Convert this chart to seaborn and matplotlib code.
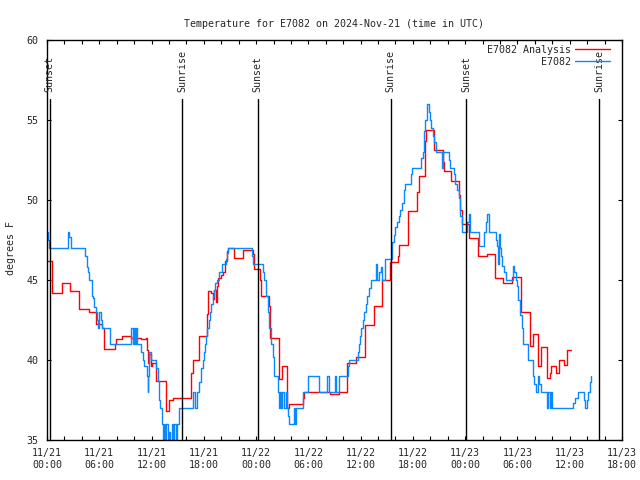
import pandas as pd
import seaborn as sns
import matplotlib
matplotlib.use("Agg")
import matplotlib.pyplot as plt
from matplotlib.ticker import MultipleLocator

# hours since 2024-11-21 00:00 UTC, deg F
analysis_hours = [0.0, 0.53, 0.61, 1.68, 2.63, 3.7, 4.84, 5.68, 6.37, 6.56, 7.78, 7.97, 8.66,
                  9.69, 10.83, 11.33, 11.48, 11.59, 11.71, 11.9, 12.09, 12.55, 13.61, 13.69,
                  14.0, 14.45, 16.55, 16.81, 17.5, 18.38, 18.53, 18.88, 19.1, 19.22, 19.41,
                  19.52, 19.6, 19.98, 20.17, 20.47, 20.63, 20.74, 21.5, 22.5, 23.6, 23.79,
                  24.44, 24.56, 25.43, 25.59, 26.58, 26.65, 26.96, 27.6, 27.8, 29.4, 29.51,
                  32.45, 33.52, 34.47, 35.42, 36.49, 37.52, 38.47, 39.38, 40.3, 40.45, 41.43,
                  42.46, 42.66, 43.35, 43.5, 44.46, 45.41, 45.53, 46.4, 47.32, 47.43, 47.62,
                  48.45, 49.44, 50.5, 51.44, 52.39, 53.42, 54.41, 55.45, 55.75, 56.39, 56.66,
                  57.34, 57.72, 57.84, 58.4, 58.75, 59.36, 59.67, 60.2]
analysis_temp = [46.2, 45.0, 44.2, 44.8, 44.3, 43.2, 43.0, 42.25, 42.0, 40.7, 41.0, 41.3, 41.5,
                 41.4, 41.3, 41.4, 40.6, 39.8, 40.4, 39.6, 39.8, 38.7, 37.8, 36.8,
                 37.5, 37.6, 39.2, 40.0, 41.5, 42.9, 44.3, 44.2, 43.8, 44.4, 43.6,
                 44.6, 45.1, 45.3, 45.5, 46.2, 46.8, 47.0, 46.4, 46.9, 46.6, 45.7,
                 45.0, 44.0, 43.4, 41.4, 39.6, 38.8, 39.6, 37.0, 37.25, 37.6, 38.0,
                 37.9, 38.0, 39.8, 40.2, 42.2, 43.4, 45.0, 46.1, 46.5, 47.2, 49.3,
                 50.5, 51.5, 53.7, 54.4, 53.1, 52.4, 51.8, 51.2, 50.3, 49.4, 48.5,
                 47.6, 46.5, 46.6, 45.1, 44.8, 45.2, 43.0, 40.9, 41.6, 39.6, 40.8,
                 38.85, 39.2, 39.6, 39.2, 40.0, 39.7, 40.6, 40.6]

obs_hours = [0.0, 0.15, 0.27, 2.44, 2.56, 2.71, 4.39, 4.54, 4.69, 4.84, 5.11, 5.30, 5.41, 5.57,
             5.76, 5.87, 5.98, 6.18, 6.37, 7.28, 9.69, 9.87, 9.99, 10.14, 10.26, 10.37, 10.83,
             11.02, 11.17, 11.48, 11.55, 11.63, 11.74, 11.9, 12.55, 12.70, 12.85, 13.0, 13.16,
             13.31, 13.46, 13.58, 13.69, 13.84, 14.0, 14.15, 14.30, 14.45, 14.60, 14.76, 14.91,
             15.1, 16.74, 16.95, 17.2, 17.5, 17.62, 17.73, 17.88, 18.04, 18.15, 18.26, 18.42,
             18.57, 18.68, 18.84, 19.03, 19.18, 19.33, 19.48, 19.79, 20.09, 20.55, 20.67, 20.74,
             23.49, 23.68, 24.75, 24.94, 25.13, 25.32, 25.51, 25.70, 25.89, 26.08, 26.46, 26.58,
             26.73, 26.88, 27.03, 27.18, 27.41, 27.53, 27.64, 27.76, 28.37, 28.48, 28.56, 29.4,
             30.01, 31.23, 32.18, 32.37, 33.06, 33.21, 33.52, 34.55, 34.66, 35.69, 35.81, 35.92,
             36.07, 36.26, 36.38, 36.57, 36.76, 36.95, 37.14, 37.71, 37.9, 38.09, 38.28, 38.47,
             38.85, 39.62, 39.81, 40.0, 40.19, 40.38, 40.57, 40.76, 40.95, 41.14, 41.79, 41.9,
             42.97, 43.12, 43.24, 43.43, 43.62, 43.89, 44.0, 44.12, 44.27, 44.46, 44.65, 45.3,
             45.45, 46.1, 46.29, 46.67, 46.86, 47.05, 47.24, 47.43, 47.63, 48.2, 48.39, 48.5,
             49.61, 50.18, 50.37, 50.48, 50.75, 51.51, 51.63, 51.74, 51.9, 52.01, 52.12, 52.28,
             52.5, 52.66, 53.54, 53.65, 53.8, 53.99, 54.11, 54.3, 54.49, 54.68, 55.18, 55.75,
             55.94, 56.1, 56.39, 56.5, 56.66, 57.34, 57.53, 57.69, 57.84, 58.0, 60.32, 60.59,
             60.9, 61.62, 61.81, 61.97, 62.12, 62.31, 62.43]
obs_temp = [48.0, 47.5, 47.0, 48.0, 47.7, 47.0, 46.5, 45.8, 45.5, 45.0, 44.0, 43.9, 43.3, 43.0,
            42.5, 42.0, 43.0, 42.5, 42.0, 41.0, 42.0, 41.0, 42.0, 41.0, 42.0, 41.0, 40.5,
            40.0, 39.6, 39.0, 38.0, 39.0, 40.5, 40.0, 39.5, 38.7, 37.5, 37.0, 36.0,
            34.5, 36.0, 34.5, 36.0, 34.5, 35.5, 34.5, 36.0, 35.0, 36.0, 35.0, 36.0,
            37.0, 38.0, 37.0, 38.0, 38.6, 39.0, 39.5, 40.0, 40.5, 41.0, 41.5, 42.0,
            42.5, 43.0, 43.5, 44.0, 44.4, 44.8, 45.0, 45.5, 46.0, 46.3, 46.7, 47.0,
            46.5, 46.0, 45.5, 45.0, 44.0, 43.0, 42.0, 41.0, 40.2, 39.0, 38.0, 37.0,
            38.0, 37.0, 38.0, 37.0, 38.0, 37.0, 36.5, 36.0, 37.0, 36.0, 37.0, 38.0,
            39.0, 38.0, 39.0, 38.0, 39.0, 38.0, 39.0, 39.6, 40.0, 40.5, 41.0, 41.5,
            42.0, 42.5, 43.0, 43.5, 44.0, 44.5, 45.0, 46.0, 45.0, 45.5, 45.8, 45.0,
            46.3, 47.4, 47.8, 48.3, 48.6, 49.0, 49.4, 49.8, 50.6, 51.0, 51.6, 52.0,
            52.6, 53.0, 54.3, 55.0, 56.0, 55.5, 55.0, 54.5, 54.0, 53.6, 53.0, 52.0,
            53.0, 52.5, 52.0, 51.6, 51.0, 50.6, 50.1, 49.0, 48.0, 48.6, 49.1, 48.0,
            47.1, 48.0, 48.6, 49.1, 48.0, 47.5, 47.1, 46.0, 47.9, 47.0, 46.5, 45.9,
            45.5, 45.0, 45.9, 45.5, 45.0, 44.6, 43.75, 42.8, 42.0, 41.0, 40.0, 39.0,
            38.5, 38.0, 39.0, 38.5, 38.0, 37.0, 38.0, 37.0, 38.0, 37.0, 37.3, 37.6,
            38.0, 37.5, 37.0, 37.5, 38.0, 38.6, 39.0]

sun_hours = [0.3, 15.5, 24.2, 39.45, 48.1, 63.37]
sun_labels = ["Sunset", "Sunrise", "Sunset", "Sunrise", "Sunset", "Sunrise"]

tick_hours = [0, 6, 12, 18, 24, 30, 36, 42, 48, 54, 60, 66]
tick_labels = ["11/21\n00:00", "11/21\n06:00", "11/21\n12:00", "11/21\n18:00",
               "11/22\n00:00", "11/22\n06:00", "11/22\n12:00", "11/22\n18:00",
               "11/23\n00:00", "11/23\n06:00", "11/23\n12:00", "11/23\n18:00"]

sns.set_style("ticks")
plt.rcParams['font.family'] = ['DejaVu Sans Mono']
fs = 7.2

analysis = pd.DataFrame({"hour": analysis_hours, "temp": analysis_temp})
obs = pd.DataFrame({"hour": obs_hours, "temp": obs_temp})

fig = plt.figure(figsize=(6.4, 4.8), dpi=100)
ax = fig.add_axes([47 / 640, 40 / 480, 575 / 640, 400 / 480])

sns.lineplot(data=analysis, x="hour", y="temp", ax=ax, color="#ff0000", lw=1.0,
             drawstyle="steps-post", estimator=None, sort=False, label="E7082 Analysis")
sns.lineplot(data=obs, x="hour", y="temp", ax=ax, color="#0a88ff", lw=1.0,
             drawstyle="steps-post", estimator=None, sort=False, label="E7082")

for h, lab in zip(sun_hours, sun_labels):
    ax.axvline(h, ymin=0, ymax=0.853, color="black", lw=1.0)
    ax.text(h, 56.75, lab, rotation=90, ha="center", va="bottom", fontsize=fs)

ax.set_xlim(0, 66)
ax.set_ylim(35, 60)
ax.set_xticks(tick_hours)
ax.set_xticklabels(tick_labels, fontsize=fs)
ax.xaxis.set_minor_locator(MultipleLocator(2))
ax.set_yticks([35, 40, 45, 50, 55, 60])
ax.set_yticklabels(["35", "40", "45", "50", "55", "60"], fontsize=fs)
ax.tick_params(which="both", direction="in", top=True, right=True, length=3, width=0.8, color="black")
ax.tick_params(axis="x", pad=6)
ax.tick_params(axis="y", pad=6)
for s in ax.spines.values():
    s.set_linewidth(1.0)
    s.set_color("black")

ax.set_xlabel("")
ax.set_ylabel("degrees F", fontsize=fs)
ax.yaxis.set_label_coords(-31 / 575, 0.48)
ax.set_title("Temperature for E7082 on 2024-Nov-21 (time in UTC)", fontsize=fs, pad=9)

ax.legend(loc="upper right", bbox_to_anchor=(0.979, 0.988), markerfirst=False, frameon=False,
          handlelength=3.5, handletextpad=0.4, labelspacing=0.2, borderaxespad=0, borderpad=0,
          fontsize=fs)

fig.savefig("out.png", dpi=100)
